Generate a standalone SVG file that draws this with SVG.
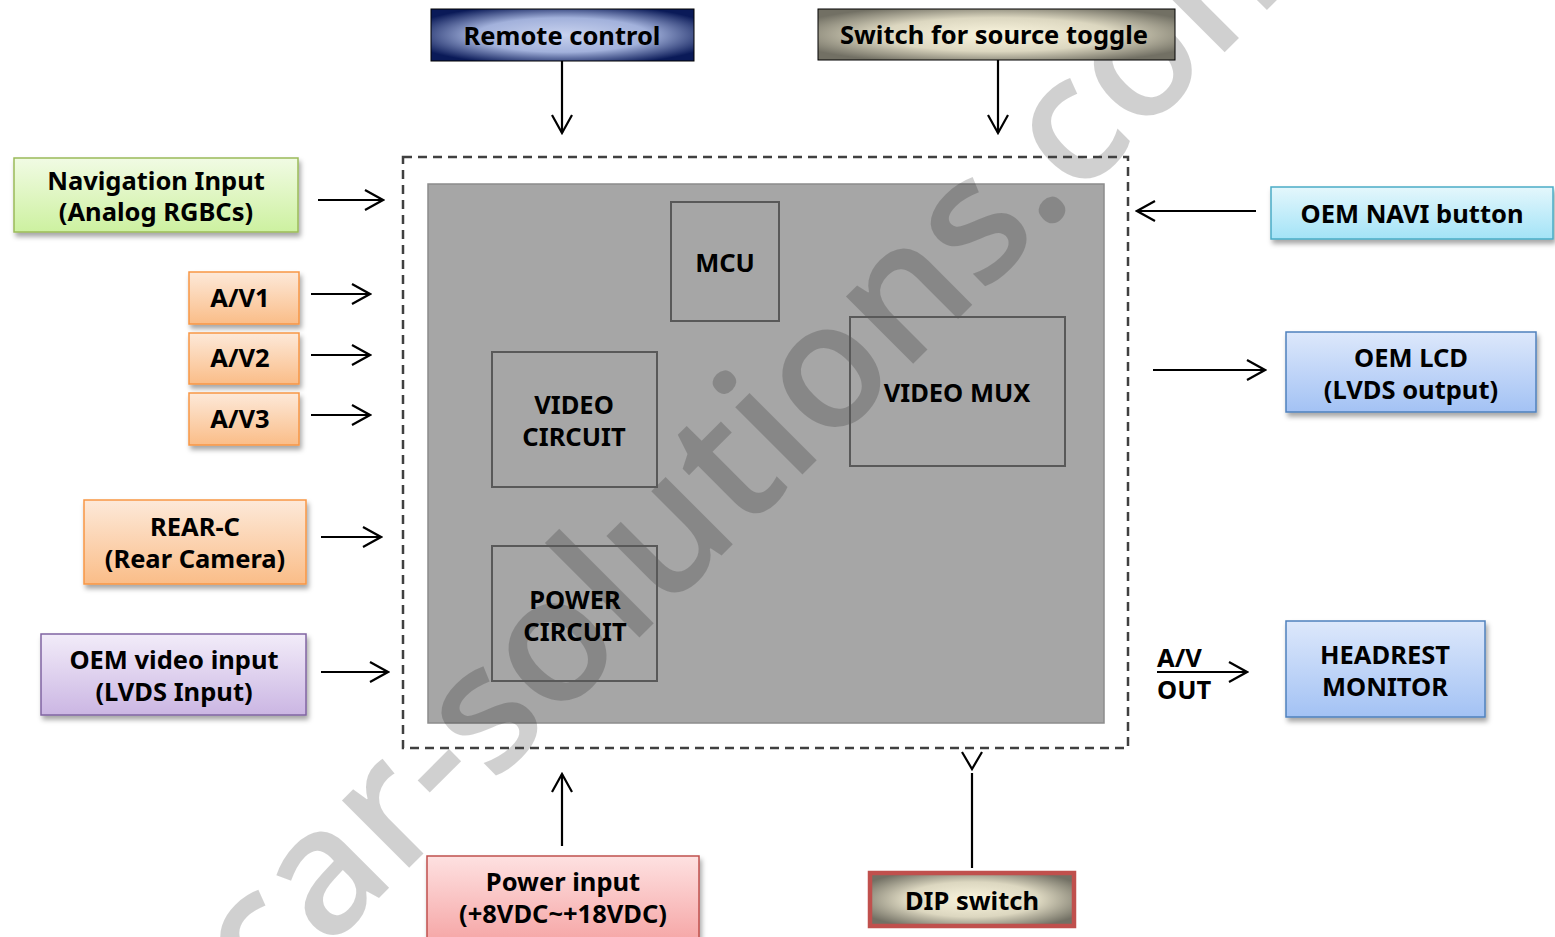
<svg xmlns="http://www.w3.org/2000/svg" width="1555" height="937" viewBox="0 0 1555 937">
<defs>
<style>
.t{font-family:"Noto Sans","Liberation Sans",sans-serif;font-weight:bold;font-size:25.5px;fill:#000;text-anchor:middle}
.ts{text-anchor:start}
.c{fill:none;stroke:#000;stroke-width:2.2}
.inner{fill:none;stroke:#595959;stroke-width:2}
.sh{filter:url(#shadow)}
</style>
<filter id="shadow" x="-10%" y="-20%" width="120%" height="150%">
<feDropShadow dx="2" dy="4" stdDeviation="2.5" flood-color="#000" flood-opacity="0.35"/>
</filter>
<marker id="ah" markerUnits="userSpaceOnUse" markerWidth="22" markerHeight="24" viewBox="-20 -12 22 24" refX="0" refY="0" orient="auto">
<path d="M-18,-10 L0,0 L-18,10" fill="none" stroke="#000" stroke-width="2.2"/>
</marker>
<radialGradient id="gRemote" cx="50%" cy="50%" r="60%">
<stop offset="0" stop-color="#c8d2ee"/><stop offset="0.55" stop-color="#a2b1db"/><stop offset="1" stop-color="#0a1a58"/>
</radialGradient>
<radialGradient id="gSwitch" cx="50%" cy="50%" r="60%">
<stop offset="0" stop-color="#faf5de"/><stop offset="0.55" stop-color="#dcd7c0"/><stop offset="1" stop-color="#727064"/>
</radialGradient>
<linearGradient id="gGreen" x1="0" y1="0" x2="0" y2="1"><stop offset="0" stop-color="#f1fbe4"/><stop offset="1" stop-color="#cdf1a0"/></linearGradient>
<linearGradient id="gOrange" x1="0" y1="0" x2="0" y2="1"><stop offset="0" stop-color="#fde9d9"/><stop offset="1" stop-color="#fabd88"/></linearGradient>
<linearGradient id="gPurple" x1="0" y1="0" x2="0" y2="1"><stop offset="0" stop-color="#f2ecf9"/><stop offset="1" stop-color="#cbb6e3"/></linearGradient>
<linearGradient id="gCyan" x1="0" y1="0" x2="0" y2="1"><stop offset="0" stop-color="#e4f7fc"/><stop offset="1" stop-color="#a3e3f7"/></linearGradient>
<linearGradient id="gBlue" x1="0" y1="0" x2="0" y2="1"><stop offset="0" stop-color="#dde8fb"/><stop offset="1" stop-color="#a3c2f4"/></linearGradient>
<linearGradient id="gPink" x1="0" y1="0" x2="0" y2="1"><stop offset="0" stop-color="#fee1e1"/><stop offset="1" stop-color="#f5a3a3"/></linearGradient>
</defs>
<rect width="1555" height="937" fill="#fff"/>

<g id="core">
<rect x="428" y="184" width="676" height="539" fill="#a6a6a6" stroke="#8c8c8c" stroke-width="1.5"/>
</g>

<g id="watermark" transform="translate(265,1012) rotate(-45)">
<text x="0" y="0" font-family="'Open Sans','Noto Sans',sans-serif" font-weight="600" font-size="176" fill="#000" fill-opacity="0.185">car-solutions.com</text>
</g>

<g id="mcu"><rect class="inner" x="671" y="202" width="108" height="119"/><text class="t" x="725" y="272">MCU</text></g>
<g id="video-circuit"><rect class="inner" x="492" y="352" width="165" height="135"/><text class="t" x="574" y="414">VIDEO</text><text class="t" x="574" y="446">CIRCUIT</text></g>
<g id="video-mux"><rect class="inner" x="850" y="317" width="215" height="149"/><text class="t" x="957" y="402">VIDEO MUX</text></g>
<g id="power-circuit"><rect class="inner" x="492" y="546" width="165" height="135"/><text class="t" x="575" y="609">POWER</text><text class="t" x="575" y="641">CIRCUIT</text></g>

<g id="device-boundary">
<rect x="403" y="157" width="725" height="591" fill="none" stroke="#404040" stroke-width="2.5" stroke-dasharray="9,6"/>
</g>

<g id="remote"><rect x="431" y="9" width="263" height="52" fill="url(#gRemote)" stroke="#000" stroke-width="1"/><text class="t" x="562" y="45">Remote control</text></g>
<g id="switch"><rect x="818" y="9" width="357" height="51" fill="url(#gSwitch)" stroke="#000" stroke-width="1"/><text class="t" x="994" y="44">Switch for source toggle</text></g>

<g id="nav"><rect class="sh" x="14" y="158" width="284" height="74" fill="url(#gGreen)" stroke="#9bbb59" stroke-width="1.5"/><text class="t" x="156" y="190">Navigation Input</text><text class="t" x="156" y="221">(Analog RGBCs)</text></g>
<g id="av1"><rect class="sh" x="189" y="272" width="110" height="52" fill="url(#gOrange)" stroke="#f79646" stroke-width="1.5"/><text class="t" x="240" y="307">A/V1</text></g>
<g id="av2"><rect class="sh" x="189" y="333" width="110" height="51" fill="url(#gOrange)" stroke="#f79646" stroke-width="1.5"/><text class="t" x="240" y="367">A/V2</text></g>
<g id="av3"><rect class="sh" x="189" y="393" width="110" height="52" fill="url(#gOrange)" stroke="#f79646" stroke-width="1.5"/><text class="t" x="240" y="428">A/V3</text></g>
<g id="rearc"><rect class="sh" x="84" y="500" width="222" height="84" fill="url(#gOrange)" stroke="#f79646" stroke-width="1.5"/><text class="t" x="195" y="536">REAR-C</text><text class="t" x="195" y="568">(Rear Camera)</text></g>
<g id="oem-video"><rect class="sh" x="41" y="634" width="265" height="81" fill="url(#gPurple)" stroke="#8064a2" stroke-width="1.5"/><text class="t" x="174" y="669">OEM video input</text><text class="t" x="174" y="701">(LVDS Input)</text></g>

<g id="oem-navi"><rect class="sh" x="1271" y="187" width="282" height="52" fill="url(#gCyan)" stroke="#4bacc6" stroke-width="1.5"/><text class="t" x="1412" y="223">OEM NAVI button</text></g>
<g id="oem-lcd"><rect class="sh" x="1286" y="332" width="250" height="80" fill="url(#gBlue)" stroke="#4f81bd" stroke-width="1.5"/><text class="t" x="1411" y="367">OEM LCD</text><text class="t" x="1411" y="399">(LVDS output)</text></g>
<g id="headrest"><rect class="sh" x="1286" y="621" width="199" height="96" fill="url(#gBlue)" stroke="#4f81bd" stroke-width="1.5"/><text class="t" x="1385" y="664">HEADREST</text><text class="t" x="1385" y="696">MONITOR</text></g>

<g id="power"><rect class="sh" x="427" y="856" width="272" height="90" fill="url(#gPink)" stroke="#c0504d" stroke-width="1.5"/><text class="t" x="563" y="891">Power input</text><text class="t" x="563" y="923">(+8VDC~+18VDC)</text></g>
<g id="dip"><rect x="870" y="873" width="204" height="53" fill="url(#gSwitch)" stroke="#c0504d" stroke-width="4.5"/><text class="t" x="972" y="910">DIP switch</text></g>

<g id="connectors">
<line class="c" x1="562" y1="61" x2="562" y2="133" marker-end="url(#ah)"/>
<line class="c" x1="998" y1="60" x2="998" y2="133" marker-end="url(#ah)"/>
<line class="c" x1="318" y1="200" x2="383" y2="200" marker-end="url(#ah)"/>
<line class="c" x1="311" y1="294" x2="370" y2="294" marker-end="url(#ah)"/>
<line class="c" x1="311" y1="355" x2="370" y2="355" marker-end="url(#ah)"/>
<line class="c" x1="311" y1="415" x2="370" y2="415" marker-end="url(#ah)"/>
<line class="c" x1="321" y1="537" x2="381" y2="537" marker-end="url(#ah)"/>
<line class="c" x1="321" y1="672" x2="388" y2="672" marker-end="url(#ah)"/>
<line class="c" x1="1256" y1="211" x2="1137" y2="211" marker-end="url(#ah)"/>
<line class="c" x1="1153" y1="370" x2="1265" y2="370" marker-end="url(#ah)"/>
<line class="c" x1="1157" y1="672" x2="1247" y2="672" marker-end="url(#ah)"/>
<line class="c" x1="562" y1="846" x2="562" y2="774" marker-end="url(#ah)"/>
<line class="c" x1="972" y1="868" x2="972" y2="773"/>
<path class="c" d="M962,752 L972,769 L982,752"/>
</g>

<g id="av-out-label"><text class="t ts" x="1157" y="667">A/V</text><text class="t ts" x="1157" y="699">OUT</text></g>
</svg>
